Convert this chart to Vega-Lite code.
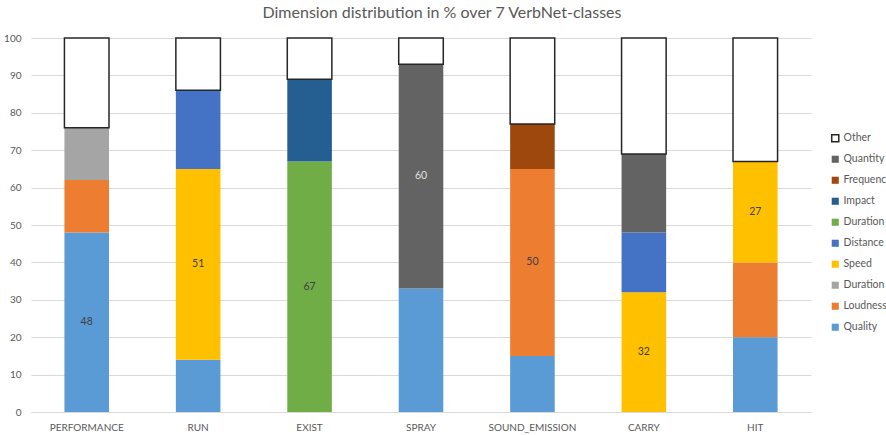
{
  "$schema": "https://vega.github.io/schema/vega-lite/v6.json",
  "width": 780,
  "height": 374,
  "autosize": "none",
  "padding": {"left": 31, "top": 38, "right": 75, "bottom": 23},
  "background": "white",
  "title": {
    "text": "Dimension distribution in % over 7 VerbNet-classes",
    "font": "Lato",
    "fontSize": 16,
    "fontWeight": "normal",
    "color": "#595959",
    "anchor": "middle",
    "dx": 21,
    "offset": 12
  },
  "data": {
    "values": [
      {"cls": "PERFORMANCE", "dim": "Quality", "value": 48, "rank": 1, "labeled": true},
      {"cls": "PERFORMANCE", "dim": "Loudness", "value": 14, "rank": 2, "labeled": false},
      {"cls": "PERFORMANCE", "dim": "Duration B", "value": 14, "rank": 3, "labeled": false},
      {"cls": "PERFORMANCE", "dim": "Other", "value": 24, "rank": 10, "labeled": false},
      {"cls": "RUN", "dim": "Quality", "value": 14, "rank": 1, "labeled": false},
      {"cls": "RUN", "dim": "Speed", "value": 51, "rank": 4, "labeled": true},
      {"cls": "RUN", "dim": "Distance", "value": 21, "rank": 5, "labeled": false},
      {"cls": "RUN", "dim": "Other", "value": 14, "rank": 10, "labeled": false},
      {"cls": "EXIST", "dim": "Duration A", "value": 67, "rank": 6, "labeled": true},
      {"cls": "EXIST", "dim": "Impact", "value": 22, "rank": 7, "labeled": false},
      {"cls": "EXIST", "dim": "Other", "value": 11, "rank": 10, "labeled": false},
      {"cls": "SPRAY", "dim": "Quality", "value": 33, "rank": 1, "labeled": false},
      {"cls": "SPRAY", "dim": "Quantity", "value": 60, "rank": 9, "labeled": true},
      {"cls": "SPRAY", "dim": "Other", "value": 7, "rank": 10, "labeled": false},
      {"cls": "SOUND_EMISSION", "dim": "Quality", "value": 15, "rank": 1, "labeled": false},
      {"cls": "SOUND_EMISSION", "dim": "Loudness", "value": 50, "rank": 2, "labeled": true},
      {"cls": "SOUND_EMISSION", "dim": "Frequency", "value": 12, "rank": 8, "labeled": false},
      {"cls": "SOUND_EMISSION", "dim": "Other", "value": 23, "rank": 10, "labeled": false},
      {"cls": "CARRY", "dim": "Speed", "value": 32, "rank": 4, "labeled": true},
      {"cls": "CARRY", "dim": "Distance", "value": 16, "rank": 5, "labeled": false},
      {"cls": "CARRY", "dim": "Quantity", "value": 21, "rank": 9, "labeled": false},
      {"cls": "CARRY", "dim": "Other", "value": 31, "rank": 10, "labeled": false},
      {"cls": "HIT", "dim": "Quality", "value": 20, "rank": 1, "labeled": false},
      {"cls": "HIT", "dim": "Loudness", "value": 20, "rank": 2, "labeled": false},
      {"cls": "HIT", "dim": "Speed", "value": 27, "rank": 4, "labeled": true},
      {"cls": "HIT", "dim": "Other", "value": 33, "rank": 10, "labeled": false}
    ]
  },
  "encoding": {
    "x": {
      "field": "cls",
      "type": "nominal",
      "sort": null,
      "scale": {"paddingInner": 0.6, "paddingOuter": 0.3},
      "axis": {
        "title": null,
        "labelAngle": 0,
        "labelFont": "Lato",
        "labelFontSize": 10,
        "labelColor": "#595959",
        "labelPadding": 10,
        "ticks": false,
        "domainColor": "#d9d9d9",
        "domainWidth": 1
      }
    }
  },
  "layer": [
    {
      "mark": {"type": "bar", "strokeWidth": 1.5},
      "encoding": {
        "y": {
          "field": "value",
          "type": "quantitative",
          "stack": "zero",
          "scale": {"domain": [0, 100]},
          "axis": {
            "title": null,
            "tickCount": 10,
            "labelOverlap": false,
            "domain": false,
            "ticks": false,
            "labelFont": "Lato",
            "labelFontSize": 10,
            "labelColor": "#595959",
            "labelPadding": 10,
            "gridColor": "#d9d9d9",
            "gridWidth": 1
          }
        },
        "order": {"field": "rank", "type": "quantitative"},
        "color": {
          "field": "dim",
          "type": "nominal",
          "scale": {
            "domain": ["Other", "Quantity", "Frequency", "Impact", "Duration A", "Distance", "Speed", "Duration B", "Loudness", "Quality"],
            "range": ["#ffffff", "#636363", "#9e480e", "#255e91", "#70ad47", "#4472c4", "#ffc000", "#a5a5a5", "#ed7d31", "#5b9bd5"]
          },
          "legend": {
            "title": null,
            "orient": "none",
            "legendX": 799,
            "legendY": 95,
            "symbolType": "square",
            "symbolSize": 50,
            "labelFont": "Lato",
            "labelFontSize": 10.5,
            "labelColor": "#595959",
            "rowPadding": 7,
            "labelOffset": 3,
            "labelExpr": "indexof(datum.label, 'Duration') === 0 ? 'Duration' : datum.label"
          }
        },
        "stroke": {
          "field": "dim",
          "type": "nominal",
          "scale": {
            "domain": ["Other", "Quantity", "Frequency", "Impact", "Duration A", "Distance", "Speed", "Duration B", "Loudness", "Quality"],
            "range": ["#262626", "transparent", "transparent", "transparent", "transparent", "transparent", "transparent", "transparent", "transparent", "transparent"]
          }
        }
      }
    },
    {
      "transform": [
        {"stack": "value", "groupby": ["cls"], "sort": [{"field": "rank"}], "as": ["v0", "v1"]},
        {"calculate": "(datum.v0 + datum.v1) / 2", "as": "mid"},
        {"filter": "datum.labeled"}
      ],
      "mark": {"type": "text", "font": "Lato", "fontSize": 10.5},
      "encoding": {
        "y": {
          "field": "mid",
          "type": "quantitative",
          "axis": {
            "title": null,
            "tickCount": 10,
            "labelOverlap": false,
            "domain": false,
            "ticks": false,
            "labelFont": "Lato",
            "labelFontSize": 10,
            "labelColor": "#595959",
            "labelPadding": 10,
            "gridColor": "#d9d9d9",
            "gridWidth": 1
          }
        },
        "text": {"field": "value", "type": "quantitative"},
        "color": {
          "condition": {"test": "datum.dim === 'Quantity'", "value": "#e0e0e0"},
          "value": "#404040"
        }
      }
    }
  ],
  "config": {
    "view": {"stroke": null},
    "axisY": {"tickCount": 10}
  }
}
